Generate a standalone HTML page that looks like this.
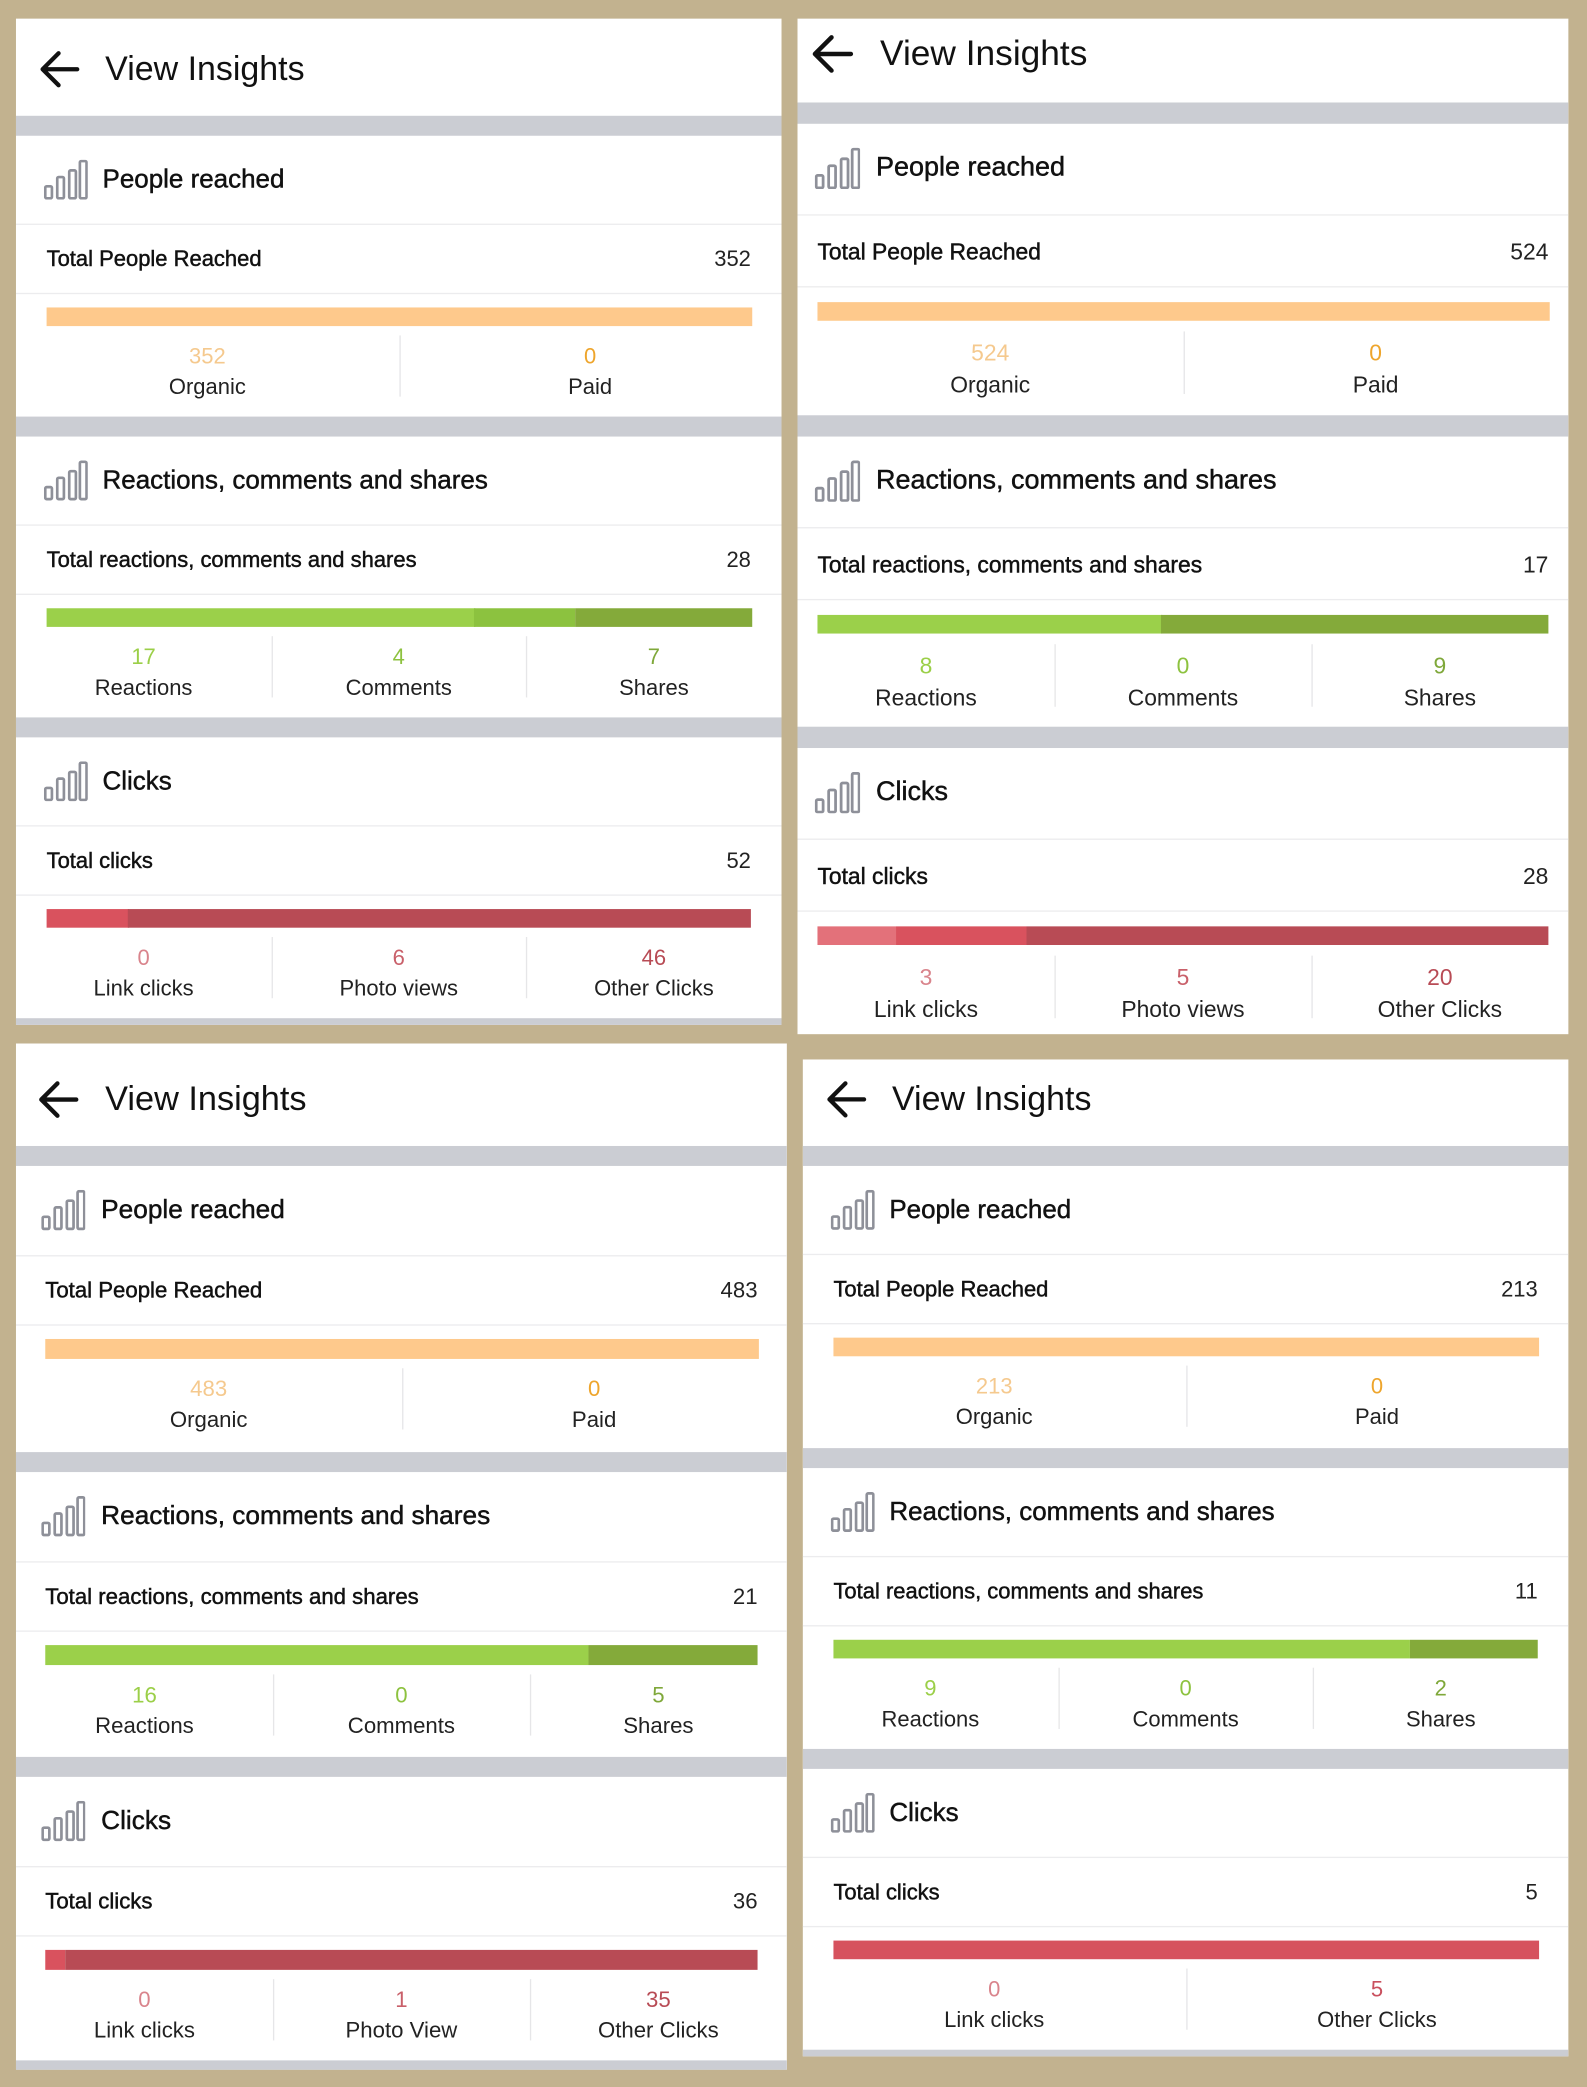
<!DOCTYPE html>
<html><head><meta charset="utf-8">
<style>
html,body{margin:0;padding:0;background:#c2b28f;}
body{width:1587px;height:2087px;overflow:hidden;position:relative;font-family:"Liberation Sans",sans-serif;}
#stage{position:absolute;left:0;top:0;width:1192px;height:1568px;transform-origin:0 0;transform:scale(1.33138,1.33099);}
.panel{position:absolute;background:#fff;overflow:hidden;}
.abs{position:absolute;white-space:nowrap;}
.band{position:absolute;left:0;right:0;background:#cbcdd3;}
.div{position:absolute;height:1px;background:#ececee;}
.vdiv{position:absolute;width:1px;background:#e6e6e8;}
.med{-webkit-text-stroke:0.35px #111;color:#111;}
</style></head>
<body>
<div id="stage"></div>
<script>
// ---- data arrays ----
const reachLabels = ['Organic','Paid'];
const reachA = [352,0];
const reachB = [524,0];
const reachC = [483,0];
const reachD = [213,0];
const engageLabels = ['Reactions','Comments','Shares'];
const engageA = [17,4,7];
const engageB = [8,0,9];
const engageC = [16,0,5];
const engageD = [9,0,2];
const clickLabelsA = ['Link clicks','Photo views','Other Clicks'];
const clickLabelsB = ['Link clicks','Photo views','Other Clicks'];
const clickLabelsC = ['Link clicks','Photo View','Other Clicks'];
const clickLabelsD = ['Link clicks','Other Clicks'];
const clicksA = [0,6,46];
const clicksB = [3,5,20];
const clicksC = [0,1,35];
const clicksD = [0,5];

// ---- styles (not data) ----
const reachBar = ['#fec98c','#f6b04a'];
const reachNum = ['#f5c98e','#eea52c'];
const engBar = ['#9bd04a','#8cc23f','#84aa3a'];
const engNum = ['#9bcf48','#8dc23f','#7fa83a'];
const clkBar3 = ['#e3717a','#d9525e','#b84b55'];
const clkNum3 = ['#d9848c','#c9606a','#b84b55'];
const clkBar2 = ['#e3717a','#d6525e'];
const clkNum2 = ['#d9848c','#c9505e'];

const panels = [
 {id:'a',x:12,y:14,w:575,h:756,k:1,hy:38,pad:23,icx:21,tx:65,ax:18,hx:67,bands:[73,299,525,751],
  reach:reachA,eng:engageA,clk:clicksA,clkL:clickLabelsA},
 {id:'b',x:599,y:14,w:579,h:763,k:1.04,hy:27,pad:15,icx:13,tx:59,ax:11,hx:62,bands:[63,298,532,770],
  reach:reachB,eng:engageB,clk:clicksB,clkL:clickLabelsB},
 {id:'c',x:12,y:784,w:579,h:771,k:1.01,hy:42,pad:22,icx:19,tx:64,ax:17,hx:67,bands:[77,307,536,764],
  reach:reachC,eng:engageC,clk:clicksC,clkL:clickLabelsC},
 {id:'d',x:603,y:796,w:575,h:749,k:1,hy:30,pad:23,icx:21,tx:65,ax:18,hx:67,bands:[65,292,518,744],
  reach:reachD,eng:engageD,clk:clicksD,clkL:clickLabelsD}
];

const stage = document.getElementById('stage');
function mk(parent,cls,css,text){
  const e=document.createElement('div');
  if(cls) e.className=cls;
  e.style.cssText=css;
  if(text!==undefined) e.textContent=text;
  parent.appendChild(e);
  return e;
}
function iconSVG(k){
  return '<svg width="'+(33*k)+'" height="'+(30*k)+'" viewBox="0 0 33 30"><g fill="none" stroke="#8e9099" stroke-width="2">'+
   '<rect x="1" y="20" width="5" height="9" rx="1"/><rect x="10" y="13" width="5" height="16" rx="1"/>'+
   '<rect x="19" y="8" width="5" height="21" rx="1"/><rect x="27" y="1" width="5" height="28" rx="1"/></g></svg>';
}

panels.forEach(p=>{
  const k=p.k;
  const P=mk(stage,'panel','left:'+p.x+'px;top:'+p.y+'px;width:'+p.w+'px;height:'+p.h+'px;');
  
  
  const back=mk(P,'abs','left:'+p.ax+'px;top:'+(p.hy-14*k)+'px;width:'+(30*k)+'px;height:'+(28*k)+'px;');
  back.innerHTML='<svg width="'+(30*k)+'" height="'+(28*k)+'" viewBox="0 0 30 28"><path d="M28 14H3M14 2L2 14l12 12" fill="none" stroke="#111" stroke-width="3.2" stroke-linecap="round" stroke-linejoin="round"/></svg>';
  
  
  const ttl=mk(P,'abs','left:'+p.hx+'px;top:'+(p.hy-16*k)+'px;font-size:'+(25.5*k)+'px;line-height:'+(32*k)+'px;color:#111;','View Insights');
  
  
  p.bands.forEach((b,i)=>{
    const bd=mk(P,'band','top:'+b+'px;height:'+(14*k+1)+'px;');
    
    
  });
  const secs=[
    {title:'People reached',tot:'Total People Reached',vals:p.reach,labels:reachLabels,bar:reachBar,num:reachNum,name:'people-reached'},
    {title:'Reactions, comments and shares',tot:'Total reactions, comments and shares',vals:p.eng,labels:engageLabels,bar:engBar,num:engNum,name:'engagement'},
    {title:'Clicks',tot:'Total clicks',vals:p.clk,labels:p.clkL,bar:p.clk.length===3?clkBar3:clkBar2,num:p.clk.length===3?clkNum3:clkNum2,name:'clicks'}
  ];
  const L=p.pad, R=p.w-p.pad, bw=R-L;
  secs.forEach((s,si)=>{
    const e=p.bands[si]+14*k;
    const sec=mk(P,'abs','left:0;top:'+e+'px;width:'+p.w+'px;height:'+(212*k)+'px;');
    
    
    const ic=mk(sec,'abs','left:'+p.icx+'px;top:'+(19*k)+'px;');
    ic.innerHTML=iconSVG(k);
    
    
    const st=mk(sec,'abs med','left:'+p.tx+'px;top:'+(34*k-13*k)+'px;font-size:'+(19.5*k)+'px;line-height:'+(26*k)+'px;',s.title);
    
    
    mk(sec,'div','left:0;right:0;top:'+(67*k)+'px;');
    const total=s.vals.reduce((a,b)=>a+b,0);
    const tl=mk(sec,'abs med','left:'+L+'px;top:'+(94*k-11*k)+'px;font-size:'+(16.5*k)+'px;line-height:'+(22*k)+'px;',s.tot);
    
    
    const tv=mk(sec,'abs','right:'+(p.w-R)+'px;top:'+(94*k-11*k)+'px;font-size:'+(16.5*k)+'px;line-height:'+(22*k)+'px;color:#222;',String(total));
    
    
    mk(sec,'div','left:0;right:0;top:'+(119*k)+'px;');
    let acc=0;
    s.vals.forEach((v,i)=>{
      const x0=L+bw*acc/total, wdt=bw*v/total;
      acc+=v;
      if(v<=0) return;
      const seg=mk(sec,'abs','left:'+x0+'px;top:'+(130*k)+'px;width:'+(wdt+0.5)+'px;height:'+(14*k)+'px;background:'+s.bar[i]+';');
      
      
    });
    const n=s.vals.length, cw=p.w/n;
    s.vals.forEach((v,i)=>{
      const cx=cw*(i+0.5);
      const nv=mk(sec,'abs','left:'+(cx-60)+'px;width:120px;text-align:center;top:'+(167*k-11*k)+'px;font-size:'+(16.5*k)+'px;line-height:'+(22*k)+'px;color:'+s.num[i]+';',String(v));
      
      
      const lb=mk(sec,'abs','left:'+(cx-80)+'px;width:160px;text-align:center;top:'+(190*k-11*k)+'px;font-size:'+(16.5*k)+'px;line-height:'+(22*k)+'px;color:#222;',s.labels[i]);
      
      
      if(i>0) mk(sec,'vdiv','left:'+(cw*i)+'px;top:'+(151*k)+'px;height:'+(46*k)+'px;');
    });
  });
});
</script>
</body></html>
